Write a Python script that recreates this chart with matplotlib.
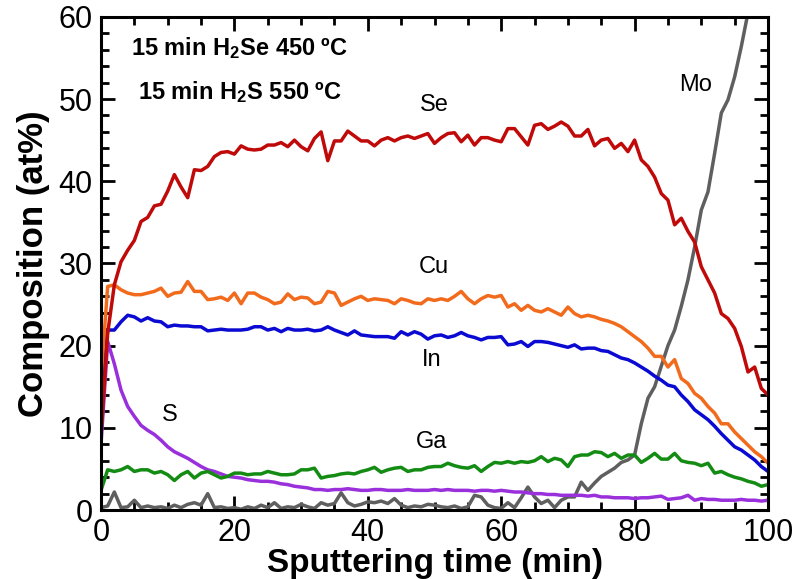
# ==========================================
# Depth profile: composition vs sputtering time
# ==========================================

import matplotlib.pyplot as plt
from matplotlib.ticker import MultipleLocator

plt.rcParams["font.family"] = ["Liberation Sans", "DejaVu Sans"]
plt.rcParams["mathtext.fontset"] = "custom"
plt.rcParams["mathtext.rm"] = "Liberation Sans:bold"
plt.rcParams["mathtext.it"] = "Liberation Sans:bold"
plt.rcParams["mathtext.bf"] = "Liberation Sans:bold"


# ==========================================
# Data (1 min steps)
# ==========================================

time_min = list(range(0, 101))

se = [9.0, 21.5, 27.4, 30.2, 31.6, 32.8, 35.1, 35.6, 37.0, 37.2,
      38.8, 40.8, 39.3, 38.0, 41.4, 41.3, 41.8, 43.0, 43.5, 43.6,
      43.3, 44.3, 43.9, 43.8, 43.9, 44.4, 44.4, 44.7, 44.2, 45.0,
      44.2, 43.7, 45.2, 46.0, 42.5, 44.9, 44.9, 46.1, 45.5, 44.9,
      44.9, 44.3, 45.0, 45.3, 44.9, 45.3, 45.5, 45.2, 45.5, 45.8,
      44.6, 45.3, 45.8, 45.9, 44.8, 45.6, 44.4, 45.3, 45.3, 45.0,
      44.8, 46.4, 46.4, 45.4, 44.4, 46.8, 47.0, 46.3, 46.7, 47.2,
      46.7, 45.5, 45.5, 46.3, 44.3, 45.0, 45.2, 44.0, 44.6, 43.6,
      45.0, 42.6, 41.8, 40.5, 38.5, 37.7, 34.7, 35.5, 33.9, 32.6,
      29.6, 28.0, 26.4, 23.9, 23.3, 22.1, 19.9, 16.8, 17.4, 14.8,
      14.0]

cu = [16.0, 27.2, 27.4, 26.8, 26.4, 26.2, 26.2, 26.4, 26.6, 27.0,
      26.0, 26.4, 26.5, 27.8, 26.6, 26.6, 25.6, 25.7, 25.9, 25.5,
      26.4, 25.1, 26.4, 26.4, 25.9, 25.6, 25.1, 25.3, 26.3, 25.6,
      25.9, 25.8, 25.1, 25.3, 26.6, 26.4, 24.9, 25.3, 25.7, 26.0,
      25.5, 25.7, 25.6, 25.5, 25.1, 25.7, 25.5, 25.2, 25.1, 25.7,
      25.5, 25.7, 25.5, 26.0, 26.6, 25.7, 25.1, 25.7, 26.1, 25.9,
      26.1, 24.7, 25.1, 24.3, 24.9, 24.3, 24.1, 24.5, 24.1, 23.7,
      24.7, 23.9, 23.5, 23.7, 23.5, 23.2, 23.0, 22.7, 22.3, 21.7,
      21.1, 20.5, 19.7, 18.7, 18.7, 17.4, 18.3, 16.0, 15.4, 14.2,
      13.6, 12.6, 11.8, 10.5, 10.5, 9.5, 8.7, 7.9, 7.1, 6.5,
      5.7]

in_ = [13.4, 21.9, 21.9, 22.9, 23.7, 23.5, 23.0, 23.4, 23.0, 22.9,
       22.3, 22.5, 22.4, 22.4, 22.3, 22.3, 21.8, 21.9, 22.0, 21.9,
       21.9, 21.9, 22.0, 22.3, 22.3, 21.9, 22.1, 21.7, 22.1, 21.9,
       21.9, 22.0, 21.8, 21.9, 22.3, 21.9, 21.6, 21.3, 21.8, 21.3,
       21.2, 21.1, 21.1, 21.1, 20.9, 21.7, 21.3, 21.7, 21.4, 20.8,
       21.2, 21.3, 21.0, 21.2, 21.6, 21.2, 21.0, 20.7, 21.0, 21.0,
       21.1, 20.1, 20.2, 20.5, 19.9, 20.5, 20.5, 20.4, 20.2, 20.0,
       19.8, 20.1, 19.6, 19.7, 19.7, 19.4, 19.3, 18.9, 18.5, 18.3,
       17.9, 17.4, 16.9, 16.3, 15.8, 15.2, 15.0, 14.0, 13.2, 12.2,
       11.6, 11.0, 10.2, 9.3, 8.5, 7.7, 7.3, 6.7, 6.1, 5.3,
       4.7]

ga = [2.4, 4.9, 4.7, 4.9, 5.3, 4.7, 4.9, 4.9, 4.5, 4.7,
      4.3, 3.6, 4.3, 4.7, 3.9, 4.5, 4.7, 4.3, 3.9, 4.1,
      4.5, 4.5, 4.3, 4.4, 4.4, 4.7, 4.5, 4.3, 4.3, 4.4,
      4.9, 4.9, 5.1, 3.9, 4.1, 4.2, 4.4, 4.5, 4.4, 4.7,
      4.9, 5.2, 4.6, 4.9, 5.1, 5.2, 4.7, 4.9, 4.9, 5.2,
      5.3, 5.3, 5.7, 5.4, 5.2, 5.1, 5.4, 4.7, 5.3, 5.8,
      5.7, 5.9, 5.7, 5.9, 5.8, 6.0, 6.5, 5.9, 6.3, 6.1,
      5.3, 6.5, 6.7, 6.7, 7.1, 7.0, 6.5, 6.9, 6.3, 6.7,
      6.7, 5.8, 6.3, 6.9, 6.2, 6.2, 6.9, 6.0, 5.8, 5.7,
      5.4, 5.7, 4.5, 4.7, 4.3, 4.0, 3.8, 3.5, 3.3, 2.9,
      3.1]

s = [8.0, 20.5, 17.8, 14.6, 12.6, 11.4, 10.3, 9.7, 9.2, 8.5,
     7.7, 7.1, 6.7, 6.3, 5.8, 5.3, 4.9, 4.7, 4.4, 4.1,
     4.0, 3.9, 3.7, 3.6, 3.5, 3.5, 3.4, 3.2, 3.1, 2.9,
     2.8, 2.7, 2.5, 2.5, 2.4, 2.5, 2.5, 2.6, 2.5, 2.4,
     2.4, 2.5, 2.5, 2.4, 2.4, 2.4, 2.5, 2.4, 2.4, 2.4,
     2.5, 2.4, 2.5, 2.4, 2.4, 2.4, 2.3, 2.4, 2.4, 2.3,
     2.4, 2.3, 2.2, 2.2, 2.1, 2.0, 2.0, 1.9, 1.9, 1.8,
     1.8, 1.8, 1.8, 1.7, 1.8, 1.6, 1.6, 1.5, 1.5, 1.5,
     1.4, 1.5, 1.5, 1.6, 1.7, 1.3, 1.4, 1.5, 1.8, 1.2,
     1.4, 1.3, 1.3, 1.2, 1.2, 1.2, 1.3, 1.2, 1.2, 1.1,
     1.2]

mo = [0.3, 0.5, 2.2, 0.3, 0.4, 1.2, 0.3, 0.5, 0.3, 0.4,
      0.2, 0.6, 0.3, 0.7, 0.9, 0.6, 2.0, 0.3, 0.4, 0.2,
      0.3, 0.1, 0.4, 0.2, 0.6, 0.3, 0.9, 0.2, 0.4, 0.3,
      0.7, 0.4, 0.2, 0.9, 0.6, 0.8, 2.1, 0.9, 0.5, 0.7,
      1.0, 0.9, 1.1, 0.8, 1.4, 0.6, 0.3, 0.5, 0.4, 0.7,
      0.6, 0.4, 0.3, 0.5, 0.2, 0.4, 1.8, 1.6, 0.6, 0.3,
      0.2, 0.9, 0.3, 1.5, 2.8, 1.6, 0.8, 1.2, 0.3, 1.2,
      1.6, 1.6, 3.4, 2.4, 3.3, 4.1, 4.6, 5.1, 5.8, 6.1,
      6.7, 10.5, 13.6, 15.0, 17.5, 20.0, 21.9, 24.8, 28.0, 32.0,
      36.5, 38.7, 43.4, 48.3, 49.9, 52.7, 56.4, 60.5, 64.0, 67.0,
      70.0]

elements = ["Se", "Cu", "In", "Ga", "S", "Mo"]
label_x = [49.9, 49.9, 49.6, 49.6, 10.3, 89.1]
label_y = [49.3, 29.6, 18.2, 8.3, 11.6, 51.7]

colors = {
    "Se": "#c00a0a",
    "Cu": "#f26b1d",
    "In": "#0a0ad2",
    "Ga": "#148c14",
    "S": "#9a2fdc",
    "Mo": "#5f5f5f",
}


# ==========================================
# Plot
# ==========================================

fig = plt.figure(figsize=(8.08, 5.79), dpi=100)
ax = fig.add_axes([0.125, 0.119, 0.8255, 0.852])

series = {"Se": se, "Cu": cu, "In": in_, "Ga": ga, "S": s, "Mo": mo}

for name in ["Mo", "S", "Ga", "In", "Cu", "Se"]:
    ax.plot(time_min, series[name], color=colors[name], lw=2.5)

for name, x, y in zip(elements, label_x, label_y):
    ax.text(x, y, name, fontsize=17, ha="center", va="center")

ax.text(0.207, 0.937, "15 min H$_2$Se 450 ºC", transform=ax.transAxes,
        fontsize=17, fontweight="bold", ha="center", va="center")
ax.text(0.208, 0.848, "15 min H$_2$S 550 ºC", transform=ax.transAxes,
        fontsize=17, fontweight="bold", ha="center", va="center")

ax.set_xlim(0, 100)
ax.set_ylim(0, 60)

ax.xaxis.set_major_locator(MultipleLocator(20))
ax.xaxis.set_minor_locator(MultipleLocator(5))
ax.yaxis.set_major_locator(MultipleLocator(10))
ax.yaxis.set_minor_locator(MultipleLocator(2))

ax.tick_params(which="both", direction="in", top=True, right=True,
               width=2, labelsize=22)
ax.tick_params(which="major", length=10, pad=6)
ax.tick_params(which="minor", length=6)

for spine in ax.spines.values():
    spine.set_linewidth(2.2)

ax.set_xlabel("Sputtering time (min)", fontsize=24, fontweight="bold",
              labelpad=0)
ax.set_ylabel("Composition (at%)", fontsize=25, fontweight="bold",
              labelpad=6)

plt.savefig("out.png", dpi=100)
